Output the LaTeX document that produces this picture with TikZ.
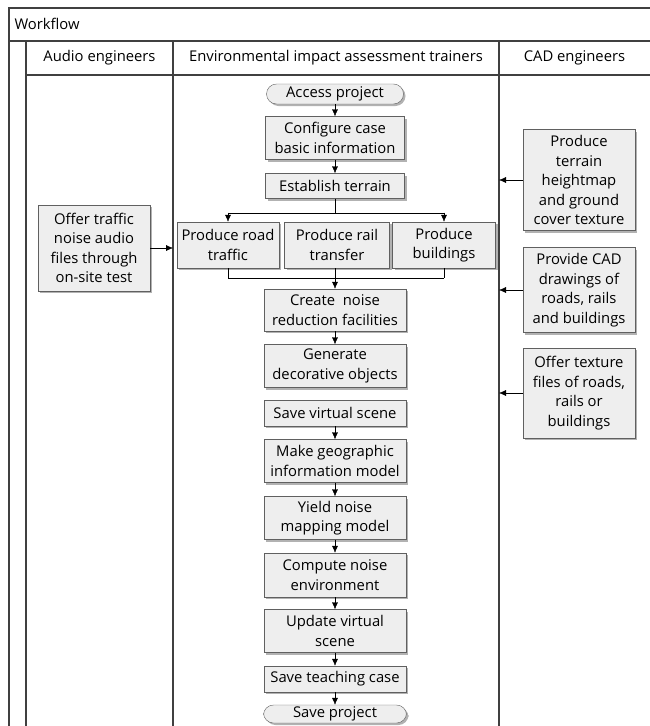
\documentclass[tikz,border=0pt]{standalone}
\usepackage{fontspec}
\setmainfont{Open Sans}
\usetikzlibrary{arrows.meta,shadows}

\tikzset{
  task/.style={draw=gray!75!black, fill=gray!13, align=center, inner sep=1pt,
    drop shadow={shadow xshift=2pt, shadow yshift=-2pt, fill=gray!60, opacity=1}},
  mid/.style={task, minimum width=142pt},
  side/.style={task, minimum width=112pt},
  term/.style={task, minimum width=137pt, minimum height=20pt, rounded corners=10pt},
  flow/.style={-{Latex[length=7pt,width=6pt]}},
  lane/.style={draw=black!75, line width=1.1pt}
}

\begin{document}
\begin{tikzpicture}[x=1pt,y=-1pt, every node/.style={font=\fontsize{14.8}{19.5}\selectfont}]
\useasboundingbox (0,0) rectangle (650,726);

% pool and lanes
\draw[lane] (650,8) -- (9,8) -- (9,726);
\draw[lane] (9,41) -- (650,41);
\draw[lane] (26,41) -- (26,726);
\draw[lane] (26,75) -- (650,75);
\coordinate (b1) at (173,41);
\coordinate (b2) at (499,41);
\draw[lane] (b1) -- (173,726);
\draw[lane] (b2) -- (499,726);

\node[anchor=west] (title) at (11,24) {Workflow};
\node (h1) at (99.5,58) {Audio engineers};
\node (h2) at (336,58) {Environmental impact assessment trainers};
\node (h3) at (574.5,58) {CAD engineers};

% main flow
\node[term] (access) at (335,94) {Access project};
\node[mid, minimum width=139pt, minimum height=43pt] (config) at (335,138) {Configure case\\basic information};
\node[mid, minimum width=139pt, minimum height=25pt] (terrain) at (335,186) {Establish terrain};
\node[task, minimum width=102pt, minimum height=46pt] (road) at (228,245) {Produce road\\traffic};
\node[task, minimum width=105pt, minimum height=46pt] (rail) at (337,245) {Produce rail\\transfer};
\node[task, minimum width=103pt, minimum height=46pt] (build) at (444,245) {Produce\\buildings};
\node[mid, minimum height=42pt] (noise) at (335,310) {Create~ noise\\reduction facilities};
\node[mid, minimum height=43pt] (deco) at (335,366) {Generate\\decorative objects};
\node[mid, minimum height=26pt] (scene) at (335,413) {Save virtual scene};
\node[mid, minimum height=43pt] (geo) at (335,461) {Make geographic\\information model};
\node[mid, minimum height=43pt] (map) at (335,518) {Yield noise\\mapping model};
\node[mid, minimum height=44pt] (env) at (335,575) {Compute noise\\environment};
\node[mid, minimum height=43pt] (upd) at (335,631) {Update virtual\\scene};
\node[mid, minimum height=26pt] (case) at (335,679) {Save teaching case};
\node[term, minimum width=143pt, minimum height=18pt] (save) at (335,714) {Save project};

% other lanes
\node[side, minimum height=86pt] (audio) at (94,248) {Offer traffic\\noise audio\\files through\\on-site test};
\node[side, minimum height=101pt] (cad1) at (579,180) {Produce\\terrain\\heightmap\\and ground\\cover texture};
\node[side, minimum height=85pt] (cad2) at (579,290) {Provide CAD\\drawings of\\roads, rails\\and buildings};
\node[side, minimum height=90pt] (cad3) at (579,393) {Offer texture\\files of roads,\\rails or\\buildings};

\draw[flow] (access) -- (config);
\draw[flow] (config) -- (terrain);
\draw (terrain.south) -- ++(0,14) coordinate (split);
\draw (split -| road) -- (split -| build);
\draw[flow] (split -| road) -- (road.north);
\draw[flow] (split -| build) -- (build.north);
\draw (road.south) -- ++(0,10) coordinate (join);
\draw (join) -- (join -| build);
\draw (build.south) -- (join -| build);
\draw[flow] (rail.south -| noise) -- (noise.north);
\draw[flow] (noise) -- (deco);
\draw[flow] (scene) -- (geo);
\draw[flow] (geo) -- (map);
\draw[flow] (map) -- (env);
\draw[flow] (env) -- (upd);
\draw[flow] (upd) -- (case);
\draw[flow] (case) -- (save);

\draw[flow] (audio) -- (audio -| b1);
\draw[flow] (cad1) -- (cad1 -| b2);
\draw[flow] (cad2) -- (cad2 -| b2);
\draw[flow] (cad3) -- (cad3 -| b2);
\end{tikzpicture}
\end{document}
